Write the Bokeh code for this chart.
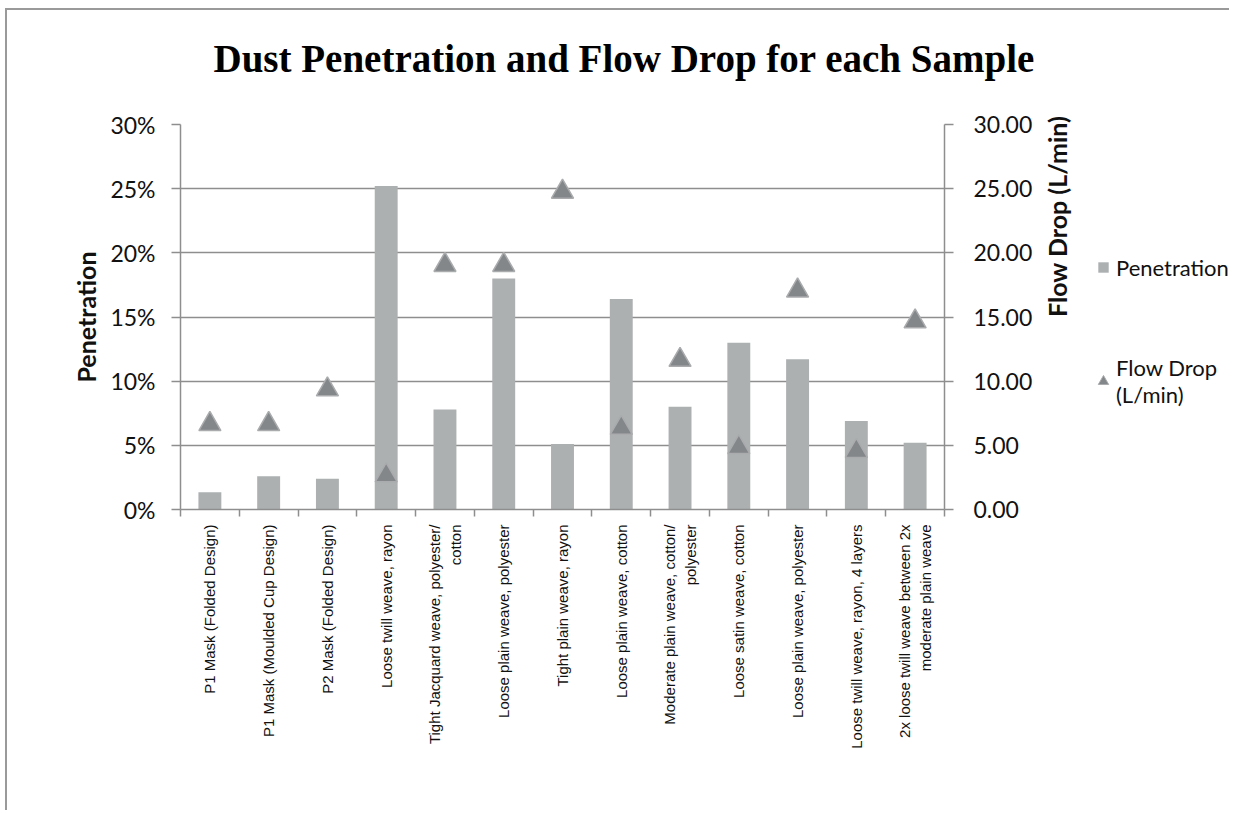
import math
from bokeh.plotting import figure
from bokeh.layouts import row, column
from bokeh.models import (ColumnDataSource, Range1d, LinearAxis, FixedTicker,
                          NumeralTickFormatter, Legend, LegendItem, Grid, Title)
from bokeh.transform import dodge
from bokeh.embed import file_html
from bokeh.resources import INLINE

# ---------------- data ----------------
sample_no = [1, 2, 3, 4, 5, 6, 7, 8, 9, 10, 11, 12, 13]
samples = [
    "P1 Mask (Folded Design)",
    "P1 Mask (Moulded Cup Design)",
    "P2 Mask (Folded Design)",
    "Loose twill weave, rayon",
    "Tight Jacquard weave, polyester/ cotton",
    "Loose plain weave, polyester",
    "Tight plain weave, rayon",
    "Loose plain weave, cotton",
    "Moderate plain weave, cotton/ polyester",
    "Loose satin weave, cotton",
    "Loose plain weave, polyester",
    "Loose twill weave, rayon, 4 layers",
    "2x loose twill weave between 2x moderate plain weave",
]
# wrapped versions of the tick labels as shown on the chart
sample_labels = [
    "P1 Mask (Folded Design)",
    "P1 Mask (Moulded Cup Design)",
    "P2 Mask (Folded Design)",
    "Loose twill weave, rayon",
    "Tight Jacquard weave, polyester/\ncotton",
    "Loose plain weave, polyester",
    "Tight plain weave, rayon",
    "Loose plain weave, cotton",
    "Moderate plain weave, cotton/\npolyester",
    "Loose satin weave, cotton",
    "Loose plain weave, polyester",
    "Loose twill weave, rayon, 4 layers",
    "2x loose twill weave between 2x\nmoderate plain weave",
]
penetration = [0.0135, 0.026, 0.024, 0.252, 0.078, 0.180, 0.051, 0.164,
               0.080, 0.130, 0.117, 0.069, 0.052]
flow_drop = [6.9, 6.9, 9.6, 2.9, 19.3, 19.3, 25.0, 6.6, 11.9, 5.1, 17.3, 4.8, 14.9]

pen_ticks = [0, 0.05, 0.10, 0.15, 0.20, 0.25, 0.30]
flow_ticks = [0, 5, 10, 15, 20, 25, 30]

source = ColumnDataSource(dict(x=sample_no, name=samples, pen=penetration, flow=flow_drop))

GRID = "#8e8e8e"
BAR = "#adb0b1"
TRI = "#84878a"
TRI_EDGE = "#a9abad"
TXT = "#111111"

# ---------------- title strip ----------------
tf = figure(width=1222, height=100, output_backend="svg", toolbar_location=None,
            x_range=Range1d(0, 1), y_range=Range1d(0, 1),
            x_axis_location=None, y_axis_location=None,
            min_border=0, outline_line_color=None,
            background_fill_color="white", border_fill_color="white")
tf.center = [r for r in tf.center if not isinstance(r, Grid)]
tf.title = Title(text="Dust Penetration and Flow Drop for each Sample", align="left", offset=206,
                 text_font="Liberation Serif", text_font_style="bold", text_font_size="39px",
                 text_color="#000000", standoff=48)

# ---------------- main chart ----------------
p = figure(width=1083, height=700, output_backend="svg", toolbar_location=None, title=None,
           x_range=Range1d(0.5, len(sample_no) + 0.5), y_range=Range1d(0, 0.30),
           x_axis_location=None, y_axis_location=None,
           min_border_left=173, min_border_right=140, min_border_top=14, min_border_bottom=301,
           background_fill_color="white", border_fill_color="white",
           outline_line_color=None)
p.extra_y_ranges = {"flow": Range1d(0, 30)}
p.center = [r for r in p.center if not isinstance(r, Grid)]

left = LinearAxis(ticker=FixedTicker(ticks=pen_ticks),
                  formatter=NumeralTickFormatter(format="0%"),
                  axis_label="Penetration")
right = LinearAxis(y_range_name="flow", ticker=FixedTicker(ticks=flow_ticks),
                   formatter=NumeralTickFormatter(format="0.00"),
                   axis_label="Flow Drop (L/min)", axis_label_orientation=math.pi / 2)
for ax in (left, right):
    ax.axis_line_color = GRID
    ax.axis_line_width = 1.5
    ax.major_tick_line_color = GRID
    ax.major_tick_line_width = 1.5
    ax.major_tick_out = 9
    ax.major_tick_in = 0
    ax.minor_tick_line_color = None
    ax.major_label_standoff = 16
    ax.major_label_text_font = "Lato"
    ax.major_label_text_font_size = "23px"
    ax.major_label_text_color = TXT
    ax.axis_label_text_font = "Lato"
    ax.axis_label_text_font_style = "bold"
    ax.axis_label_text_font_size = "25px"
    ax.axis_label_text_color = TXT
left.axis_label_standoff = 6
right.major_label_standoff = 20
right.axis_label_standoff = 22
p.add_layout(left, "left")
p.add_layout(right, "right")

boundaries = [n - 0.5 for n in sample_no] + [sample_no[-1] + 0.5]
bottom = LinearAxis(ticker=FixedTicker(ticks=sample_no, minor_ticks=boundaries),
                    major_label_overrides={n: lab for n, lab in zip(sample_no, sample_labels)},
                    major_label_orientation=math.pi / 2)
bottom.axis_line_color = GRID
bottom.axis_line_width = 1.5
bottom.major_tick_line_color = None
bottom.minor_tick_line_color = GRID
bottom.minor_tick_line_width = 1.5
bottom.minor_tick_out = 7
bottom.minor_tick_in = 0
bottom.major_tick_out = 7
bottom.major_tick_in = 0
bottom.major_label_standoff = 8
bottom.major_label_text_font = "Liberation Sans"
bottom.major_label_text_font_size = "15px"
bottom.major_label_text_color = TXT
p.add_layout(bottom, "below")

p.add_layout(Grid(dimension=1, ticker=left.ticker, grid_line_color=GRID, grid_line_width=1.5))

bars = p.vbar(x="x", top="pen", width=0.39, source=source,
              fill_color=BAR, line_color=None)
tri = p.scatter(x="x", y=dodge("flow", -0.25), y_range_name="flow", source=source,
                marker="triangle", size=22, fill_color=TRI,
                line_color=TRI_EDGE, line_width=1.5)

# ---------------- legend (separate narrow panel to the right) ----------------
# its plot frame is aligned with the main chart's frame by the row layout
lg = figure(width=139, height=700, output_backend="svg", toolbar_location=None, title=None,
            x_range=Range1d(0, 1), y_range=Range1d(0, 1),
            x_axis_location=None, y_axis_location=None,
            min_border_left=0, min_border_right=0, min_border_bottom=0, min_border_top=0,
            outline_line_color=None,
            background_fill_color="white", border_fill_color="white")
lg.center = [r for r in lg.center if not isinstance(r, Grid)]
# zero-size markers: these only provide the legend swatches
sw_bar = lg.scatter(x="x", y="pen", source=source, marker="square", size=0,
                    fill_color=BAR, line_color=None)
sw_tri = lg.scatter(x="x", y="flow", source=source, marker="triangle", size=0,
                    fill_color=TRI, line_color=TRI_EDGE)
legend = Legend(items=[LegendItem(label="Penetration", renderers=[sw_bar]),
                       LegendItem(label="Flow Drop\n(L/min)", renderers=[sw_tri])],
                location=(0, 101), glyph_width=26, glyph_height=30, label_standoff=-12,
                spacing=72, padding=0, margin=0, border_line_color=None,
                background_fill_alpha=0,
                label_text_font="Lato", label_text_font_size="22px",
                label_text_color=TXT, label_text_line_height=1.15)
lg.add_layout(legend)

layout = column(tf, row(p, lg),
                styles={"border-left": "2px solid #9a9a9a", "border-top": "2px solid #9a9a9a",
                        "margin-left": "5px", "margin-top": "8px"})

open("out.html", "w").write(file_html(layout, INLINE))
